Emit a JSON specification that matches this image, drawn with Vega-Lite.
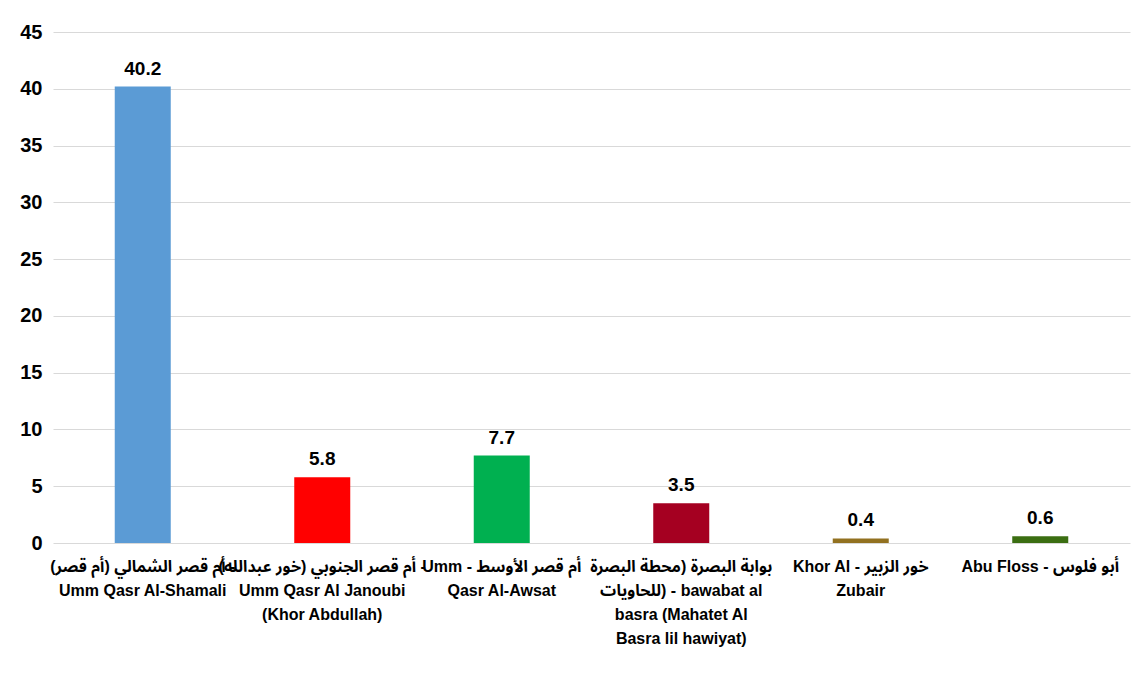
{
  "$schema": "https://vega.github.io/schema/vega-lite/v6.json",
  "autosize": "none",
  "width": 1077,
  "height": 511,
  "padding": {"left": 53, "top": 32, "right": 8, "bottom": 136},
  "background": "white",
  "config": {
    "view": {"stroke": null},
    "font": "'Liberation Sans', Arial, 'Noto Sans Arabic', 'Noto Naskh Arabic', 'Noto Sans Arabic UI', 'DejaVu Sans Condensed', 'DejaVu Sans', sans-serif"
  },
  "data": {
    "values": [
      {"port": "أم قصر الشمالي (أم قصر) -|Umm Qasr Al-Shamali", "value": 40.2, "c": "a"},
      {"port": "أم قصر الجنوبي (خور عبدالله) -|Umm Qasr Al Janoubi|(Khor Abdullah)", "value": 5.8, "c": "b"},
      {"port": "Umm - أم قصر الأوسط|Qasr Al-Awsat", "value": 7.7, "c": "c"},
      {"port": "بوابة البصرة (محطة البصرة|للحاويات) - bawabat al|basra (Mahatet Al|Basra lil hawiyat)", "value": 3.5, "c": "d"},
      {"port": "Khor Al - خور الزبير|Zubair", "value": 0.4, "c": "e"},
      {"port": "Abu Floss - أبو فلوس", "value": 0.6, "c": "f"}
    ]
  },
  "encoding": {
    "x": {
      "field": "port",
      "type": "nominal",
      "sort": null,
      "scale": {"paddingInner": 0.688, "paddingOuter": 0.344},
      "axis": {
        "title": null,
        "labelAngle": 0,
        "domain": false,
        "ticks": false,
        "labelPadding": 15,
        "labelFontSize": 16,
        "labelFontWeight": "bold",
        "labelColor": "black",
        "labelLineHeight": 24,
        "labelLimit": 300,
        "labelExpr": "split(datum.label, '|')"
      }
    },
    "y": {
      "field": "value",
      "type": "quantitative",
      "scale": {"domain": [0, 45], "nice": false},
      "axis": {
        "title": null,
        "values": [0, 5, 10, 15, 20, 25, 30, 35, 40, 45],
        "domain": false,
        "ticks": false,
        "labelPadding": 11,
        "labelFontSize": 20,
        "labelFontWeight": "bold",
        "labelColor": "black",
        "gridColor": "#d9d9d9",
        "gridWidth": 1
      }
    }
  },
  "layer": [
    {
      "mark": {"type": "bar"},
      "encoding": {
        "color": {
          "field": "c",
          "type": "nominal",
          "scale": {"domain": ["a", "b", "c", "d", "e", "f"], "range": ["#5B9BD5", "#FF0000", "#00B050", "#A50021", "#927120", "#3B6E12"]},
          "legend": null
        }
      }
    },
    {
      "mark": {"type": "text", "baseline": "bottom", "dy": -8, "fontSize": 19, "fontWeight": "bold", "color": "black"},
      "encoding": {
        "text": {"field": "value", "type": "quantitative", "format": ".1f"}
      }
    }
  ]
}
